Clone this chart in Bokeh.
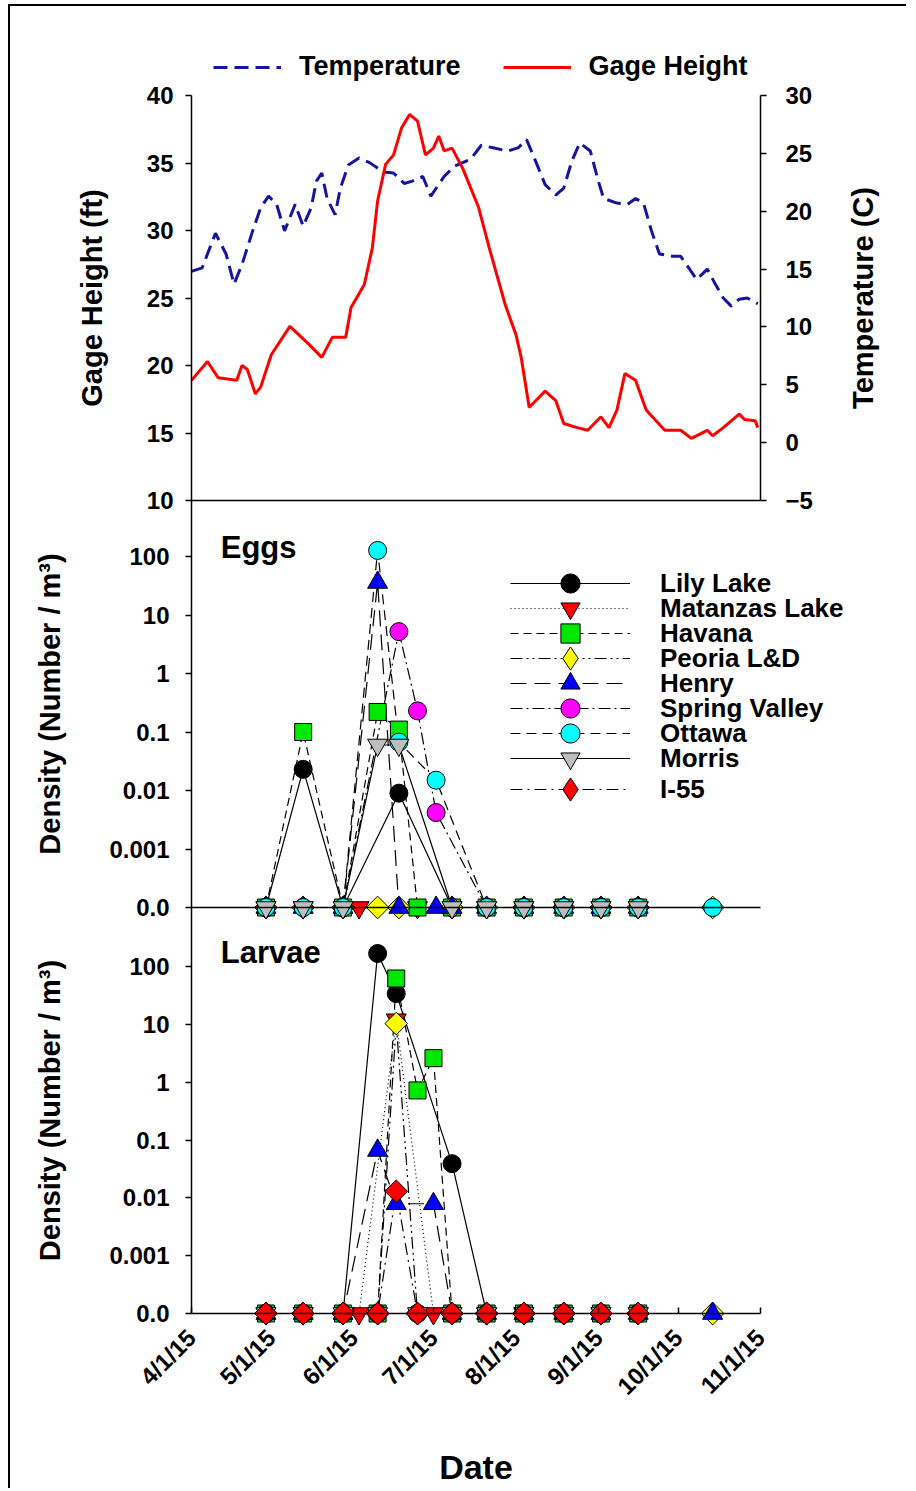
import math
from datetime import datetime
from bokeh.plotting import figure
from bokeh.layouts import column
from bokeh.models import (Range1d, LinearAxis, LogAxis, LogScale, FixedTicker,
                          Legend, LegendItem, Label)
from bokeh.embed import file_html
from bokeh.resources import INLINE

FONT = "Liberation Sans"

# ---------------- data: river conditions (top panel) ----------------
gage_dates = ["2015-04-01", "2015-04-07", "2015-04-11", "2015-04-18", "2015-04-20", "2015-04-22",
              "2015-04-25", "2015-04-27", "2015-05-01", "2015-05-08", "2015-05-15", "2015-05-20",
              "2015-05-24", "2015-05-29", "2015-05-31", "2015-06-05", "2015-06-08", "2015-06-10",
              "2015-06-13", "2015-06-16", "2015-06-19", "2015-06-22", "2015-06-25", "2015-06-28",
              "2015-07-01", "2015-07-03", "2015-07-05", "2015-07-08", "2015-07-12", "2015-07-18",
              "2015-07-22", "2015-07-28", "2015-08-01", "2015-08-03", "2015-08-06", "2015-08-08",
              "2015-08-12", "2015-08-16", "2015-08-19", "2015-08-24", "2015-08-28", "2015-09-02",
              "2015-09-05", "2015-09-08", "2015-09-11", "2015-09-15", "2015-09-19", "2015-09-26",
              "2015-10-02", "2015-10-06", "2015-10-12", "2015-10-14", "2015-10-18", "2015-10-24",
              "2015-10-26", "2015-10-30", "2015-10-31"]
gage_height_ft = [18.9, 20.3, 19.1, 18.9, 20.0, 19.7, 17.9, 18.4, 20.8, 22.9, 21.6, 20.6,
                  22.1, 22.1, 24.3, 26.0, 28.7, 32.2, 34.9, 35.6, 37.6, 38.6, 38.1, 35.6,
                  36.1, 37.0, 35.9, 36.1, 34.6, 31.7, 28.7, 24.5, 22.3, 20.6, 16.9, 17.3,
                  18.1, 17.4, 15.7, 15.4, 15.2, 16.2, 15.4, 16.7, 19.4, 18.9, 16.7, 15.2,
                  15.2, 14.6, 15.2, 14.8, 15.4, 16.4, 16.0, 15.9, 15.4]

temp_dates = ["2015-04-01", "2015-04-05", "2015-04-10", "2015-04-14", "2015-04-17", "2015-04-20",
              "2015-04-24", "2015-04-27", "2015-04-30", "2015-05-03", "2015-05-06", "2015-05-10",
              "2015-05-13", "2015-05-16", "2015-05-18", "2015-05-20", "2015-05-22", "2015-05-25",
              "2015-05-27", "2015-05-30", "2015-06-03", "2015-06-07", "2015-06-12", "2015-06-16",
              "2015-06-20", "2015-06-23", "2015-06-27", "2015-06-30", "2015-07-05", "2015-07-09",
              "2015-07-15", "2015-07-19", "2015-07-23", "2015-07-29", "2015-08-02", "2015-08-05",
              "2015-08-09", "2015-08-12", "2015-08-16", "2015-08-19", "2015-08-22", "2015-08-25",
              "2015-08-29", "2015-09-01", "2015-09-03", "2015-09-08", "2015-09-12", "2015-09-15",
              "2015-09-18", "2015-09-21", "2015-09-24", "2015-09-29", "2015-10-02", "2015-10-05",
              "2015-10-08", "2015-10-12", "2015-10-15", "2015-10-18", "2015-10-21", "2015-10-24",
              "2015-10-27", "2015-10-31"]
temperature_c = [14.8, 15.1, 18.1, 16.3, 13.7, 15.4, 18.3, 20.3, 21.3, 20.6, 18.3, 20.6,
                 18.7, 20.3, 22.6, 23.3, 21.1, 19.7, 22.0, 24.0, 24.6, 24.2, 23.4, 23.3,
                 22.4, 22.6, 23.0, 21.3, 23.0, 23.9, 24.5, 25.7, 25.5, 25.2, 25.5, 26.2,
                 24.0, 22.3, 21.4, 22.0, 24.3, 25.9, 25.2, 22.6, 21.1, 20.7, 20.6, 21.1,
                 20.7, 18.3, 16.3, 16.1, 16.1, 15.1, 14.1, 15.0, 13.7, 12.5, 11.8, 12.4,
                 12.5, 12.0]

# ---------------- data: densities (None = not sampled, 0 = none caught) ----------------
N = None
egg_dates = ["2015-04-29", "2015-05-13", "2015-05-28", "2015-06-03", "2015-06-10", "2015-06-18",
             "2015-06-25", "2015-07-02", "2015-07-08", "2015-07-21", "2015-08-04", "2015-08-19",
             "2015-09-02", "2015-09-16", "2015-10-14"]
eggs_lily_lake = [0, 0.023, 0, N, N, 0.009, N, N, 0, 0, 0, 0, 0, 0, N]
eggs_matanzas = [0, 0, N, 0, N, N, 0, N, 0, 0, 0, 0, 0, 0, N]
eggs_havana = [0, 0.1, 0, N, 0.22, 0.11, 0, N, 0, 0, 0, 0, 0, 0, N]
eggs_peoria = [0, 0, 0, N, 0, 0, N, N, 0, 0, 0, 0, 0, 0, 0]
eggs_henry = [0, 0, 0, N, 36, 0, N, 0, 0, 0, 0, 0, 0, 0, N]
eggs_spring_valley = [0, 0, 0, N, N, 5.2, 0.23, 0.0042, N, 0, 0, 0, 0, 0, N]
eggs_ottawa = [0, 0, 0, N, 127, 0.067, N, 0.015, N, 0, 0, 0, 0, 0, 0]
eggs_morris = [0, 0, 0, N, 0.06, 0.06, N, N, 0, 0, 0, 0, 0, 0, N]
eggs_i55 = [N, N, N, N, N, N, N, N, N, N, N, N, N, N, N]

larva_dates = ["2015-04-29", "2015-05-13", "2015-05-28", "2015-06-03", "2015-06-10", "2015-06-17",
               "2015-06-25", "2015-07-01", "2015-07-08", "2015-07-21", "2015-08-04", "2015-08-19",
               "2015-09-02", "2015-09-16", "2015-10-14"]
larvae_lily_lake = [0, 0, 0, N, 168, 34, N, N, 0.039, 0, 0, 0, 0, 0, N]
larvae_matanzas = [0, 0, N, 0, N, 12, N, 0, N, 0, 0, 0, 0, 0, N]
larvae_havana = [0, 0, 0, N, 0, 62, 0.72, 2.6, 0, 0, 0, 0, 0, 0, N]
larvae_peoria = [0, 0, 0, N, 0, 10.3, 0, N, 0, 0, 0, 0, 0, 0, 0]
larvae_henry = [0, 0, 0, N, 0.066, 0.0079, N, 0.0079, 0, 0, 0, 0, 0, 0, 0]
larvae_spring_valley = [0, 0, 0, N, 0, N, 0, N, 0, 0, 0, 0, 0, 0, N]
larvae_ottawa = [0, 0, 0, N, 0, N, 0, N, 0, 0, 0, 0, 0, 0, N]
larvae_morris = [0, 0, 0, N, 0, N, 0, N, 0, 0, 0, 0, 0, 0, N]
larvae_i55 = [0, 0, 0, N, 0, 0.013, 0, N, 0, 0, 0, 0, 0, 0, N]

site_names = ["Lily Lake", "Matanzas Lake", "Havana", "Peoria L&D", "Henry",
              "Spring Valley", "Ottawa", "Morris", "I-55"]

# ---------------- axis ticks ----------------
month_ticks = ["2015-04-01", "2015-05-01", "2015-06-01", "2015-07-01", "2015-08-01",
               "2015-09-01", "2015-10-01", "2015-11-01"]
month_labels = ["4/1/15", "5/1/15", "6/1/15", "7/1/15", "8/1/15", "9/1/15", "10/1/15", "11/1/15"]
gage_ticks = [10, 15, 20, 25, 30, 35, 40]
temp_ticks = [-5, 0, 5, 10, 15, 20, 25, 30]
density_ticks = [0.0001, 0.001, 0.01, 0.1, 1, 10, 100]
density_labels = ["0.0", "0.001", "0.01", "0.1", "1", "10", "100"]
ZERO_AT = 0.0001  # zero densities are drawn on the "0.0" line

# ---------------- styles ----------------
site_markers = ["circle", "inverted_triangle", "square", "square", "triangle",
                "circle", "circle", "inverted_triangle", "square"]
legend_markers = ["circle", "inverted_triangle", "square", "diamond", "triangle",
                  "circle", "circle", "inverted_triangle", "diamond"]
legend_glyph_h = [48, 48, 48, 58, 48, 48, 48, 48, 58]
legend_rows = [583, 608, 633, 658, 683, 708, 733, 758, 789]   # key row centres (page px)
site_angles = [0, 0, 0, math.pi / 4, 0, 0, 0, 0, math.pi / 4]
site_sizes = [18, 20, 17, 16, 20, 18, 18, 20, 16]
site_colors = ["#000000", "#FF0000", "#00E800", "#FFFF00", "#0000FF",
               "#FF00FF", "#00FFFF", "#BEBEBE", "#FF0000"]
site_dashes = ["solid", "1 3", "8 5", "12 4 2 4 2 4", "16 8", "12 4 2 4", "10 6", "solid", "12 5 2 5"]

EPOCH = datetime(1970, 1, 1)


def to_dt(s):
    return datetime.strptime(s, "%Y-%m-%d")


def ms(s):
    return (to_dt(s) - EPOCH).total_seconds() * 1000.0


# ---------------- layout (page pixels); the frame fills the whole canvas ----------------
CX, CY = 10, 6                 # canvas origin on the page (after margin + border)
CW, CH = 896, 1482             # canvas size
FL, FR, FT, FB = CX, CX + CW, CY, CY + CH
AX_L, AX_R = 191, 760          # 4/1/15 and 11/1/15


def lin_range(v1, p1, v2, p2):
    k = (v2 - v1) / (p2 - p1)
    return Range1d(start=v1 + (FB - p1) * k, end=v1 + (FT - p1) * k)


def log_at(v1, p1, v2, p2, p):
    a, b = math.log10(v1), math.log10(v2)
    return 10 ** (a + (p - p1) * (b - a) / (p2 - p1))


def log_range(v1, p1, v2, p2):
    return Range1d(start=log_at(v1, p1, v2, p2, FB), end=log_at(v1, p1, v2, p2, FT))


x0 = ms(month_ticks[0])
x1 = ms(month_ticks[-1])
kx = (x1 - x0) / (AX_R - AX_L)
x_range = Range1d(start=x0 - (AX_L - FL) * kx, end=x1 + (FR - AX_R) * kx)

gage_range = lin_range(40, 95, 10, 500)
temp_range = lin_range(30, 95, -5, 500)
eggs_range = log_range(100, 556, ZERO_AT, 907)
larv_range = log_range(100, 966, ZERO_AT, 1313)
eggs_top = log_at(100, 556, ZERO_AT, 907, 500)
larv_top = log_at(100, 966, ZERO_AT, 1313, 907)

p = figure(frame_width=CW, frame_height=CH, x_range=x_range, y_range=gage_range,
           x_axis_location=None, y_axis_location=None,
           toolbar_location=None, output_backend="svg",
           min_border_left=0, min_border_right=0, min_border_top=0, min_border_bottom=0)
p.outline_line_color = None
p.grid.visible = False
p.background_fill_color = "white"
p.border_fill_color = "white"
p.extra_y_ranges = {"temp": temp_range, "eggs": eggs_range, "larv": larv_range}
p.extra_y_scales = {"eggs": LogScale(), "larv": LogScale()}


def style_axis(ax, tick_out=6, tick_in=0, standoff=12):
    ax.major_label_text_font = FONT
    ax.major_label_text_font_style = "bold"
    ax.major_label_text_font_size = "24px"
    ax.major_label_text_color = "black"
    ax.major_label_standoff = standoff
    ax.axis_label_text_font = FONT
    ax.axis_label_text_font_style = "bold"
    ax.axis_label_text_font_size = "29px"
    ax.axis_label_text_color = "black"
    ax.axis_line_color = "black"
    ax.axis_line_width = 1.5
    ax.major_tick_line_color = "black"
    ax.major_tick_line_width = 1.5
    ax.major_tick_out = tick_out
    ax.major_tick_in = tick_in
    ax.minor_tick_line_color = None


# left axes, all drawn on the 4/1/15 line
gage_axis = LinearAxis(ticker=FixedTicker(ticks=gage_ticks), bounds=(10, 40),
                       fixed_location=x0, axis_label="Gage Height (ft)")
style_axis(gage_axis, standoff=12)
gage_axis.axis_label_standoff = 36
p.add_layout(gage_axis, "left")

dens_overrides = dict(zip(density_ticks, density_labels))
for rname, top in (("eggs", eggs_top), ("larv", larv_top)):
    ax = LogAxis(y_range_name=rname, ticker=FixedTicker(ticks=density_ticks, minor_ticks=[]),
                 bounds=(ZERO_AT, top), fixed_location=x0,
                 major_label_overrides=dens_overrides, axis_label="Density (Number / m\u00b3)")
    style_axis(ax, standoff=16)
    ax.axis_label_standoff = 40
    p.add_layout(ax, "left")

# right temperature axis on the 11/1/15 line
temp_axis = LinearAxis(y_range_name="temp", ticker=FixedTicker(ticks=temp_ticks), bounds=(-5, 30),
                       fixed_location=x1)
style_axis(temp_axis, standoff=19)
p.add_layout(temp_axis, "right")

# horizontal panel separators
for rname, loc in (("default", 10), ("eggs", ZERO_AT)):
    sep = LinearAxis(y_range_name=rname, fixed_location=loc, ticker=FixedTicker(ticks=[]),
                     bounds=(x0, x1))
    style_axis(sep)
    p.add_layout(sep, "below")

month_ms = [int(ms(m)) for m in month_ticks]
date_axis = LinearAxis(y_range_name="larv", fixed_location=ZERO_AT, bounds=(x0, x1),
                       ticker=FixedTicker(ticks=month_ms),
                       major_label_overrides=dict(zip(month_ms, month_labels)),
                       axis_label="Date")
style_axis(date_axis, tick_out=0, tick_in=6, standoff=20)
date_axis.major_label_orientation = math.pi / 4
date_axis.axis_label_text_font_size = "34px"
date_axis.axis_label_standoff = 36
p.add_layout(date_axis, "below")

# ---------------- top panel lines ----------------
temp_r = p.line([to_dt(d) for d in temp_dates], temperature_c, y_range_name="temp",
                line_color="#1414A0", line_width=3, line_dash="14 7")
gage_r = p.line([to_dt(d) for d in gage_dates], gage_height_ft,
                line_color="#FF0000", line_width=3)

# ---------------- density panels ----------------
eggs_values = [eggs_lily_lake, eggs_matanzas, eggs_havana, eggs_peoria, eggs_henry,
               eggs_spring_valley, eggs_ottawa, eggs_morris, eggs_i55]
larvae_values = [larvae_lily_lake, larvae_matanzas, larvae_havana, larvae_peoria, larvae_henry,
                 larvae_spring_valley, larvae_ottawa, larvae_morris, larvae_i55]


def pts(dates, vals):
    xs, ys = [], []
    for d, v in zip(dates, vals):
        if v is None:
            continue
        xs.append(to_dt(d))
        ys.append(v if v > 0 else ZERO_AT)
    return xs, ys


def draw_panel(dates, series, rname):
    lines = []
    for i, vals in enumerate(series):
        xs, ys = pts(dates, vals)
        lines.append(p.line(xs, ys, y_range_name=rname, line_color="black",
                            line_width=1.2, line_dash=site_dashes[i]) if xs else None)
    for i, vals in enumerate(series):
        xs, ys = pts(dates, vals)
        if xs:
            p.scatter(xs, ys, y_range_name=rname, marker=site_markers[i],
                      size=site_sizes[i], angle=site_angles[i],
                      fill_color=site_colors[i], line_color="black", line_width=1)
    return lines


egg_lines = draw_panel(egg_dates, eggs_values, "eggs")
lar_lines = draw_panel(larva_dates, larvae_values, "larv")

# ---------------- legends ----------------
legend_text = dict(label_text_font=FONT, label_text_font_style="bold", label_text_color="black",
                   background_fill_alpha=0, border_line_color=None, padding=0, margin=0,
                   inactive_fill_alpha=0)

top_legend = Legend(items=[LegendItem(label="Temperature", renderers=[temp_r]),
                           LegendItem(label="Gage Height", renderers=[gage_r])],
                    orientation="horizontal", location=(213 - FL, FB - 82),
                    glyph_width=68, glyph_height=20, spacing=42, label_standoff=18,
                    label_text_font_size="27px", **legend_text)
p.add_layout(top_legend)

# site key: one single-row legend per site so rows can sit 25 px apart with full-size symbols;
# swatches are hidden copies of each site's markers (drawn in the key only)
for i, name in enumerate(site_names):
    use_eggs = egg_lines[i] is not None
    rl = egg_lines[i] if use_eggs else lar_lines[i]
    xs, ys = pts(egg_dates, eggs_values[i]) if use_eggs else pts(larva_dates, larvae_values[i])
    swatch = p.scatter(xs, ys, y_range_name="eggs" if use_eggs else "larv",
                       marker=legend_markers[i], fill_color=site_colors[i],
                       line_color="black", line_width=1, visible=False)
    gh = legend_glyph_h[i]
    leg = Legend(items=[LegendItem(label=name, renderers=[rl, swatch])],
                 location=(510 - FL, FB - (legend_rows[i] + gh / 2)),
                 glyph_width=120, glyph_height=gh, label_standoff=30,
                 label_text_font_size="26px", **legend_text)
    p.add_layout(leg)

# ---------------- annotations ----------------
day = 86400000.0
p.add_layout(Label(x=x0 + 11 * day, y=log_at(100, 556, ZERO_AT, 907, 547), y_range_name="eggs",
                   text="Eggs", text_font=FONT, text_font_style="bold", text_font_size="31px",
                   text_color="black", text_baseline="middle", text_align="left"))
p.add_layout(Label(x=x0 + 11 * day, y=log_at(100, 966, ZERO_AT, 1313, 952), y_range_name="larv",
                   text="Larvae", text_font=FONT, text_font_style="bold", text_font_size="31px",
                   text_color="black", text_baseline="middle", text_align="left"))
p.add_layout(Label(x=x1 + (862 - AX_R) * kx, y=12.5, y_range_name="temp", angle=math.pi / 2,
                   text="Temperature (C)", text_font=FONT, text_font_style="bold",
                   text_font_size="29px", text_color="black",
                   text_baseline="middle", text_align="center"))

layout = column(p, styles={"margin-left": "8px", "margin-top": "4px",
                           "border-left": "2px solid black", "border-top": "2px solid black"})
open("out.html", "w").write(file_html(layout, INLINE))
